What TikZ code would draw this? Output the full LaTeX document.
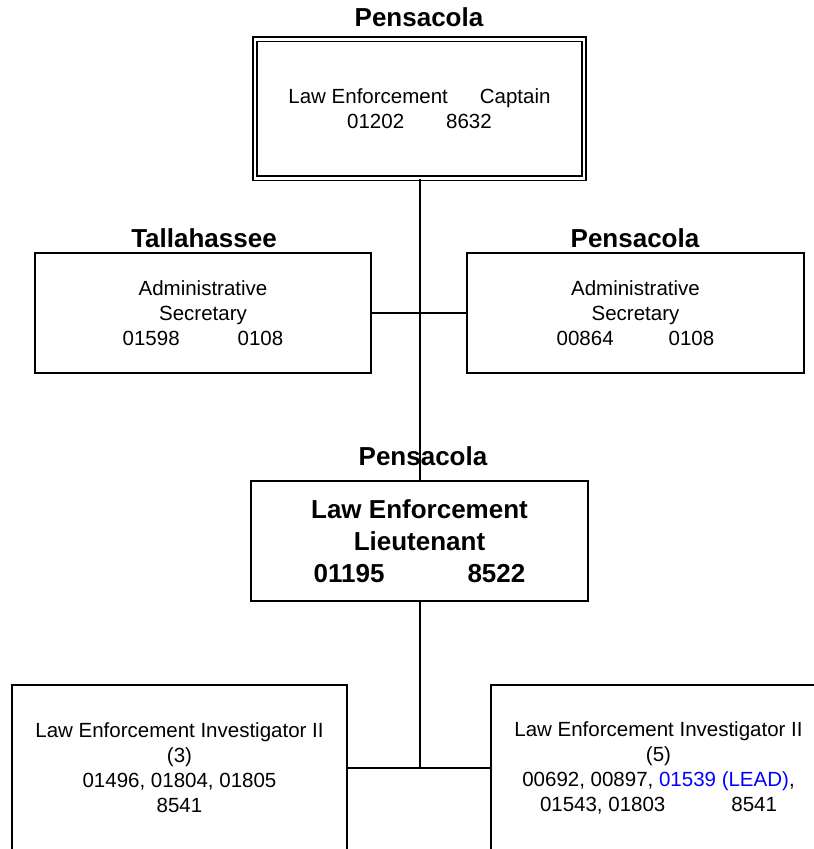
\documentclass[tikz,border=0pt]{standalone}
\usepackage{fontspec}
\setmainfont{Liberation Sans}
\usepackage{xcolor}
\begin{document}
\begin{tikzpicture}[x=1pt,y=-1pt,
  box/.style={draw=black,line width=2pt,rectangle,inner sep=0pt,align=center,
    font=\fontsize{20.5}{25}\selectfont},
  bigbox/.style={box,font=\fontsize{26}{32}\selectfont\bfseries},
  dblbox/.style={box,double=white,line width=1.9pt,double distance=2.6pt},
  place/.style={anchor=base,inner sep=0pt,font=\fontsize{26}{30}\selectfont\bfseries},
  link/.style={draw=black,line width=2pt}]
\useasboundingbox (0,0) rectangle (814,849);
\clip (0,0) rectangle (814,849);

% captain
\node[place] (t0) at (419,26) {Pensacola};
\node[dblbox,minimum width=329pt,minimum height=139pt] (cap) at (419.5,108.7)
  {Law Enforcement\hspace{32pt}Captain\\01202\hspace{42pt}8632};

% administrative secretaries
\node[place] (t1) at (204,247) {Tallahassee};
\node[box,minimum width=336pt,minimum height=120pt] (adl) at (203,313)
  {Administrative\\Secretary\\01598\hspace{58pt}0108};
\node[place] (t2) at (635,247) {Pensacola};
\node[box,minimum width=337pt,minimum height=120pt] (adr) at (635.5,313)
  {Administrative\\Secretary\\00864\hspace{55pt}0108};

% lieutenant
\node[place] (t3) at (423,465) {Pensacola};
\node[bigbox,minimum width=337pt,minimum height=120pt] (lt) at (419.5,541)
  {Law Enforcement\\Lieutenant\\01195\hspace{83pt}8522};

% investigators
\node[box,minimum width=335pt,minimum height=166pt] (inl) at (179.5,768)
  {Law Enforcement Investigator II\\(3)\\01496, 01804, 01805\\8541};
\node[box,minimum width=335pt,minimum height=166pt] (inr) at (658.5,768)
  {Law Enforcement Investigator II\\(5)\\00692, 00897, \textcolor{blue}{01539 (LEAD)},\\01543, 01803\hspace{66pt}8541};

% connectors
\draw[link] (cap.south) -- (lt.north);
\draw[link] (adl.east) -- (adr.west);
\draw[link] (lt.south) -- (lt.south |- inl.east);
\draw[link] (inl.east) -- (inr.west);
\end{tikzpicture}
\end{document}
